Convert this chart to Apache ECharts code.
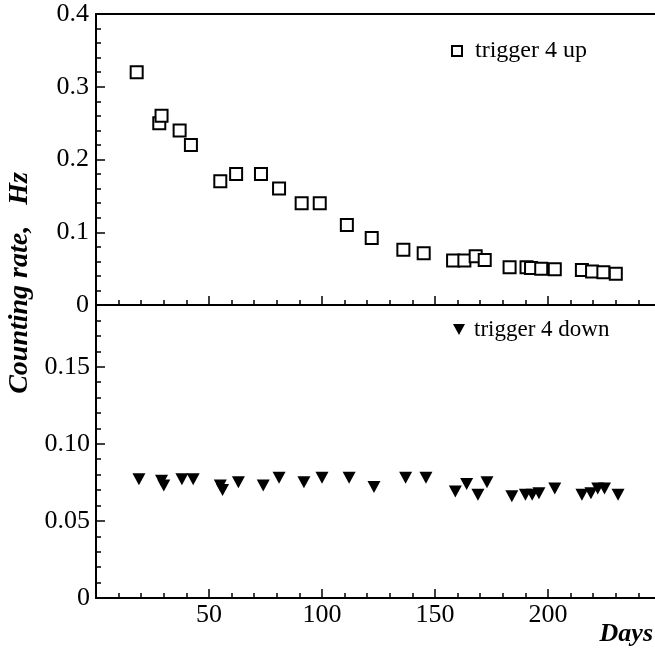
<!DOCTYPE html>
<html>
<head>
<meta charset="utf-8">
<script src="https://cdn.jsdelivr.net/npm/echarts@6/dist/echarts.min.js"></script>
<style>
html,body{margin:0;padding:0;background:#fff;overflow:hidden;width:655px;height:652px;}
#chart{width:665px;height:652px;}
</style>
</head>
<body>
<div id="chart"></div>
<script>
// ---- data ----
const xTickLabels = [50, 100, 150, 200];
const topTickLabels = ['0', '0.1', '0.2', '0.3', '0.4'];
const bottomTickLabels = ['0', '0.05', '0.10', '0.15'];

const upDays  = [18, 28, 29, 37, 42, 55, 62, 73, 81, 91, 99, 111, 122, 136, 145, 158, 163, 168, 172, 183, 190.5, 192.5, 197, 203, 215, 219.5, 224.5, 230];
const upRates = [0.32, 0.25, 0.26, 0.24, 0.22, 0.17, 0.18, 0.18, 0.16, 0.14, 0.14, 0.11, 0.092, 0.076, 0.071, 0.061, 0.061, 0.067, 0.062, 0.052, 0.052, 0.051, 0.050, 0.049, 0.048, 0.046, 0.045, 0.043];

const downDays  = [19, 29, 30, 38, 43, 55, 56, 63, 74, 81, 92, 100, 112, 123, 137, 146, 159, 164, 169, 173, 184, 190, 193, 196, 203, 215, 219, 222, 225, 231];
const downRates = [0.077, 0.076, 0.073, 0.077, 0.077, 0.073, 0.070, 0.075, 0.073, 0.078, 0.075, 0.078, 0.078, 0.072, 0.078, 0.078, 0.069, 0.074, 0.067, 0.075, 0.066, 0.067, 0.067, 0.068, 0.071, 0.067, 0.068, 0.071, 0.071, 0.067];

const upName = 'trigger 4 up';
const downName = 'trigger 4 down';
const yTitle = 'Counting rate,   Hz';
const xTitle = 'Days';

// ---- chart ----
const FONT = 'Liberation Serif';
const chart = echarts.init(document.getElementById('chart'), null, {renderer: 'canvas'});

const G0 = {left: 96, top: 14, width: 565, height: 291};
const G1 = {left: 96, top: 305, width: 565, height: 293};

const lineStyle = {color: '#000', width: 2};
const tickStyle = {color: '#000', width: 1.5};

function xAxisDef(gridIndex, showLabels) {
  return {
    type: 'value', gridIndex: gridIndex, min: 0, max: 250, interval: 50,
    axisLine: {show: true, lineStyle: lineStyle},
    axisTick: {show: true, inside: true, length: 9, lineStyle: tickStyle},
    minorTick: {show: true, splitNumber: 5, length: 5, lineStyle: tickStyle},
    splitLine: {show: false},
    axisLabel: {
      show: showLabels, margin: 4, color: '#000', fontFamily: FONT, fontSize: 26,
      formatter: function (v) { return xTickLabels.indexOf(v) >= 0 ? String(v) : ''; }
    }
  };
}

const upData = upDays.map((d, i) => [d, upRates[i]]);
const downData = downDays.map((d, i) => [d, downRates[i]]);

const triPath = 'path://M0,0L20,0L10,18Z';

const option = {
  animation: false,
  backgroundColor: '#fff',
  grid: [
    Object.assign({containLabel: false}, G0),
    Object.assign({containLabel: false}, G1)
  ],
  xAxis: [
    xAxisDef(0, false),
    xAxisDef(1, true),
    {
      type: 'value', gridIndex: 0, position: 'top', min: 0, max: 250,
      axisLine: {show: true, lineStyle: lineStyle},
      axisTick: {show: false}, axisLabel: {show: false}, splitLine: {show: false}
    }
  ],
  yAxis: [
    {
      type: 'value', gridIndex: 0, min: 0, max: 0.4, interval: 0.1,
      axisLine: {show: true, lineStyle: lineStyle},
      axisTick: {show: true, inside: true, length: 9, lineStyle: tickStyle},
      minorTick: {show: true, splitNumber: 5, length: 5, lineStyle: tickStyle},
      splitLine: {show: false},
      axisLabel: {
        margin: 7, color: '#000', fontFamily: FONT, fontSize: 26,
        formatter: function (v) { return topTickLabels[Math.round(v * 10)] || ''; }
      }
    },
    {
      // minor ticks of the lower panel (every 0.01)
      type: 'value', gridIndex: 1, min: 0, max: 0.19, interval: 0.01,
      axisLine: {show: true, lineStyle: lineStyle},
      axisTick: {show: true, inside: true, length: 5, lineStyle: tickStyle},
      axisLabel: {show: false},
      splitLine: {show: false}
    },
    {
      // major ticks + labels of the lower panel (every 0.05)
      type: 'value', gridIndex: 1, min: 0, max: 0.19, interval: 0.05,
      position: 'left',
      axisLine: {show: true, lineStyle: lineStyle},
      axisTick: {show: true, inside: true, length: 9, lineStyle: tickStyle},
      splitLine: {show: false},
      axisLabel: {
        margin: 6, color: '#000', fontFamily: FONT, fontSize: 26, showMaxLabel: false,
        formatter: function (v) {
          const k = Math.round(v / 0.05);
          return (Math.abs(v - k * 0.05) < 1e-6) ? (bottomTickLabels[k] || '') : '';
        }
      }
    }
  ],
  legend: [
    {
      data: [upName], left: 446, top: 34, itemWidth: 10, itemHeight: 10,
      textStyle: {color: '#000', fontFamily: FONT, fontSize: 24, padding: [0, 0, 0, 8]},
      selectedMode: false
    },
    {
      data: [downName], left: 448, top: 313, itemWidth: 12, itemHeight: 11,
      textStyle: {color: '#000', fontFamily: FONT, fontSize: 23, padding: [0, 0, 0, 4]},
      selectedMode: false
    }
  ],
  series: [
    {
      name: upName, type: 'scatter', xAxisIndex: 0, yAxisIndex: 0,
      symbol: 'rect', symbolSize: 12,
      itemStyle: {color: '#fff', borderColor: '#000', borderWidth: 2, opacity: 1},
      data: upData
    },
    {
      name: downName, type: 'scatter', xAxisIndex: 1, yAxisIndex: 2,
      symbol: triPath, symbolSize: [13, 12],
      itemStyle: {color: '#000', opacity: 1},
      data: downData
    }
  ],
  graphic: [
    {
      type: 'text', x: 20, y: 283, rotation: Math.PI / 2,
      style: {
        text: yTitle, fill: '#000', font: 'italic bold 28px "Liberation Serif"',
        align: 'center', verticalAlign: 'middle'
      }
    },
    {
      type: 'text', x: 653, y: 634,
      style: {
        text: xTitle, fill: '#000', font: 'italic bold 26px "Liberation Serif"',
        align: 'right', verticalAlign: 'middle'
      }
    }
  ]
};
chart.setOption(option);
</script>
</body>
</html>
